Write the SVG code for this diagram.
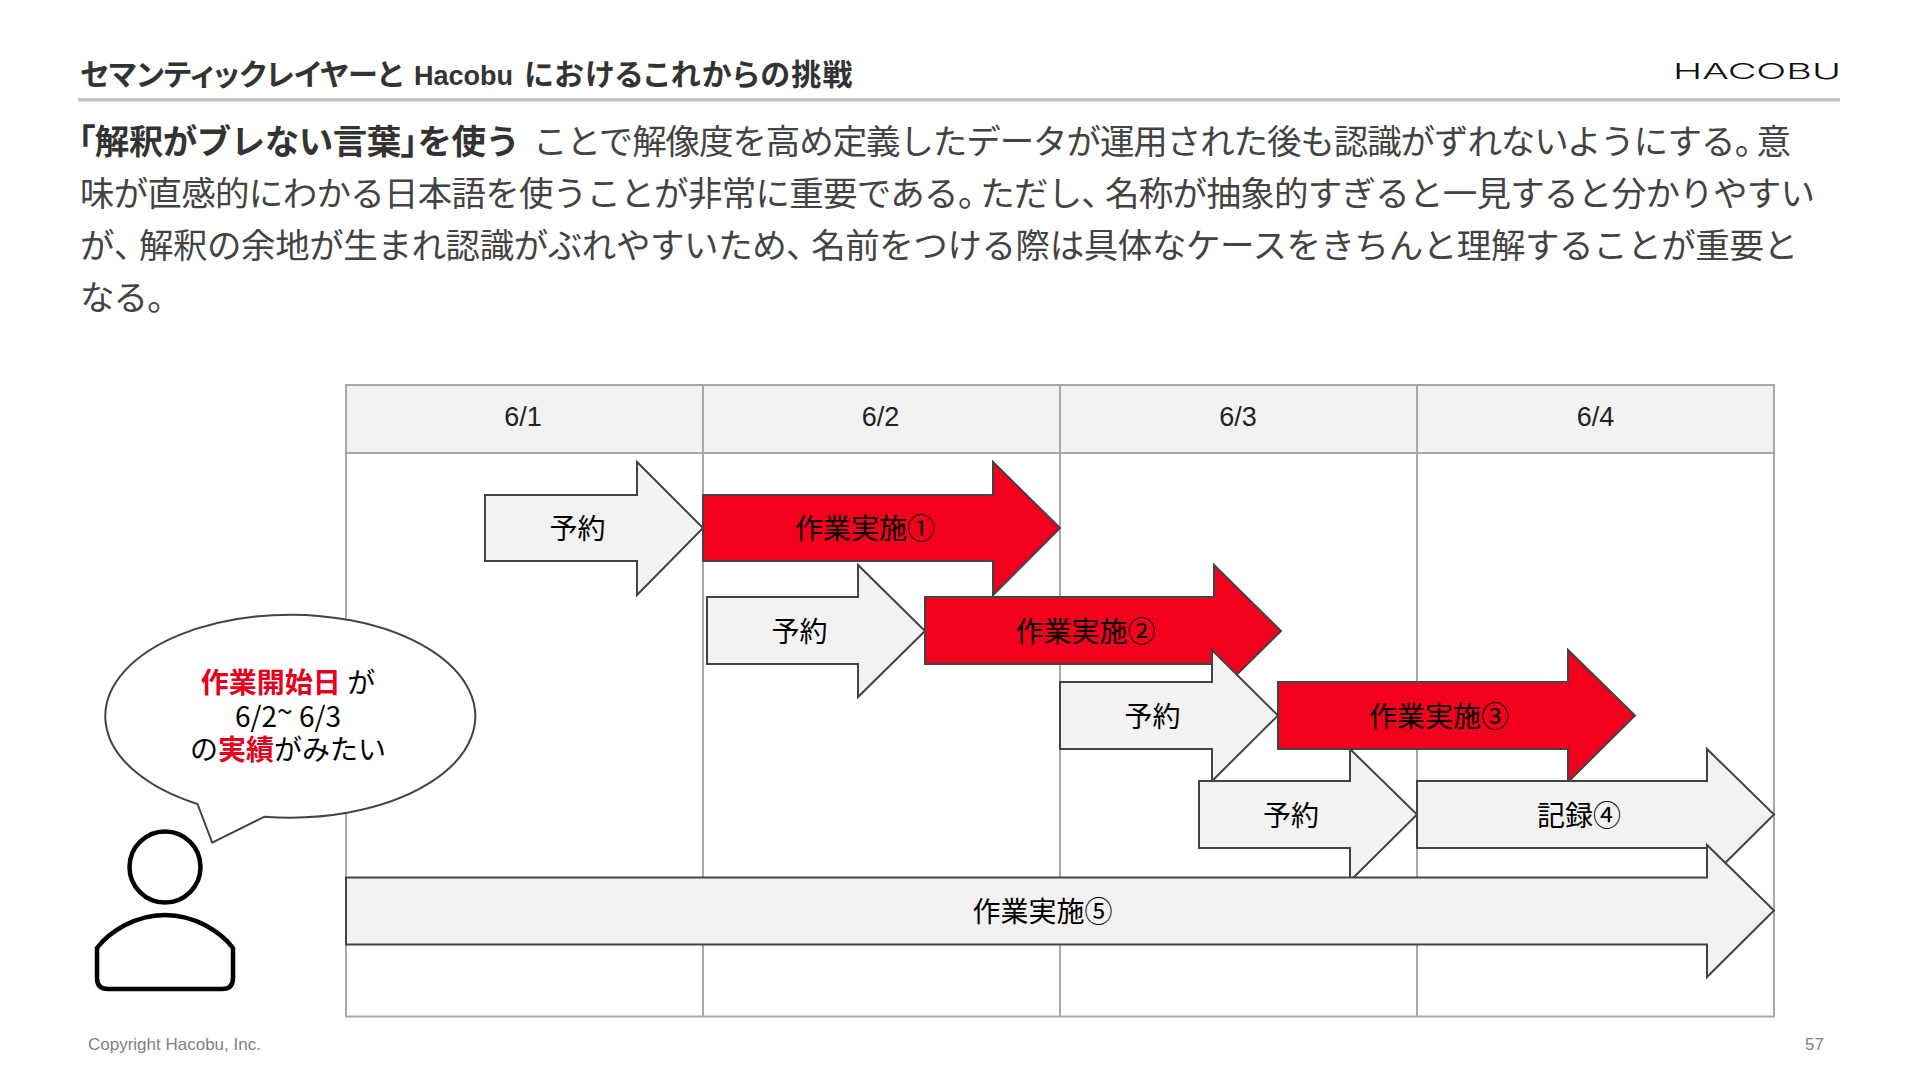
<svg xmlns="http://www.w3.org/2000/svg" width="1920" height="1080" viewBox="0 0 1920 1080">
<style>
text{font-family:"Liberation Sans","Noto Sans CJK JP",sans-serif}
.jp{font-family:"Noto Sans CJK JP",sans-serif}
.p{font-feature-settings:"palt"}
.body{font-size:34.500px;fill:#434343}
.lab{font-family:"Noto Sans CJK JP",sans-serif;font-size:28px;fill:#000;text-anchor:middle;dominant-baseline:central}
.date{font-size:27px;fill:#222;text-anchor:middle}
.grid{fill:none;stroke:#a8a8a8;stroke-width:2}
.ga{fill:#f2f2f2;stroke:#434343;stroke-width:2}
.ra{fill:#f2001d;stroke:#434343;stroke-width:2}
.red{fill:#e60020;font-weight:700}
.foot{font-size:17px;fill:#808080}
</style>
<rect width="1920" height="1080" fill="#fff"/>
<g id="header">
<text x="80" y="85" font-size="30" font-weight="700" fill="#333"><tspan class="jp p">セマンティックレイヤーと</tspan><tspan x="414" font-size="27">Hacobu</tspan><tspan class="jp p" x="524" letter-spacing="1.300">におけるこれからの挑戦</tspan></text>
<text x="1673" y="79" font-size="22" font-weight="300" fill="#111" style="font-family:Inter,sans-serif" textLength="168" lengthAdjust="spacingAndGlyphs">HACOBU</text>
<rect x="78" y="98" width="1762" height="3.500" fill="#c4c4c4"/>
</g>
<g id="body-text">
<text class="jp body" x="78" y="154" font-weight="700" style="fill:#333" textLength="442"><tspan class="p">「</tspan>解釈がブレない言葉<tspan class="p">」</tspan>を使う</text>
<text class="jp body" x="533" y="154" textLength="1258">ことで解像度を高め定義したデータが運用された後も認識がずれないようにする<tspan class="p">。</tspan><tspan dx="6">意</tspan></text>
<text class="jp body" x="80" y="206" textLength="1735">味が直感的にわかる日本語を使うことが非常に重要である<tspan class="p">。</tspan><tspan dx="6">ただし</tspan><tspan class="p">、</tspan><tspan dx="7">名称が抽象的すぎると一見すると分かりやすい</tspan></text>
<text class="jp body" x="80" y="258" textLength="1718">が<tspan class="p">、</tspan><tspan dx="8">解釈の余地が生まれ認識がぶれやすいため</tspan><tspan class="p">、</tspan><tspan dx="8">名前をつける際は具体なケースをきちんと理解することが重要と</tspan></text>
<text class="jp body" x="80" y="310" textLength="84">なる<tspan class="p">。</tspan></text>
</g>
<g id="table">
<rect x="346" y="385" width="1428" height="68" fill="#f2f2f2"/>
<rect class="grid" x="346" y="385" width="1428" height="631.500"/>
<path class="grid" d="M346 453H1774M703 385V1016.500M1060 385V1016.500M1417 385V1016.500"/>
<text class="date" x="523" y="426">6/1</text>
<text class="date" x="880.500" y="426">6/2</text>
<text class="date" x="1238" y="426">6/3</text>
<text class="date" x="1595.500" y="426">6/4</text>
</g>
<g id="arrow-yoyaku-1"><path class="ga" d="M485 495H637V462L703 528L637 595V561H485Z"/><text class="lab" x="577.500" y="526.500">予約</text></g>
<g id="arrow-work-1"><path class="ra" d="M703 495H993V462L1060 528L993 595V561H703Z"/><text class="lab" x="865" y="526.500">作業実施①</text></g>
<g id="arrow-yoyaku-2"><path class="ga" d="M707 597H858V565L925 631L858 697V664H707Z"/><text class="lab" x="799.500" y="629.500">予約</text></g>
<g id="arrow-work-2"><path class="ra" d="M925 597H1214V565L1281 631L1214 697V664H925Z"/><text class="lab" x="1085.500" y="629.500">作業実施②</text></g>
<g id="arrow-yoyaku-3"><path class="ga" d="M1060 682H1212V650L1278 715.500L1212 781V749H1060Z"/><text class="lab" x="1152.500" y="714.500">予約</text></g>
<g id="arrow-work-3"><path class="ra" d="M1278 682H1568V650L1635 715.500L1568 782V749H1278Z"/><text class="lab" x="1439" y="714.500">作業実施③</text></g>
<g id="arrow-yoyaku-4"><path class="ga" d="M1199 781H1350V749L1417 814.500L1350 881V848H1199Z"/><text class="lab" x="1291" y="813.500">予約</text></g>
<g id="arrow-record-4"><path class="ga" d="M1417 781H1707V749L1774 814.500L1707 881V848H1417Z"/><text class="lab" x="1579" y="813.500">記録④</text></g>
<g id="arrow-work-5"><path class="ga" d="M346 877.500H1707V845L1774 910.500L1707 977V944.500H346Z"/><text class="lab" x="1042.500" y="909.500">作業実施⑤</text></g>
<g id="speech-bubble">
<path d="M197.500 804A185 101.500 0 1 1 264.500 816.700L212.200 842.700Z" fill="#fff" stroke="#434343" stroke-width="2"/>
<text class="lab"><tspan x="288" y="681"><tspan class="red">作業開始日</tspan> が</tspan><tspan x="288" y="715">6/2<tspan dy="-5">~</tspan><tspan dy="5"> 6/3</tspan></tspan><tspan x="288" y="748">の<tspan class="red">実績</tspan>がみたい</tspan></text>
</g>
<g id="person" fill="#fff" stroke="#000" stroke-width="4.500">
<circle cx="165" cy="867" r="35.500"/>
<path d="M97 948C109 932 135 915 165 915C195 915 221 932 233 948V978Q233 989 222 989H108Q97 989 97 978Z"/>
</g>
<g id="footer">
<text class="foot" x="88" y="1050">Copyright Hacobu, Inc.</text>
<text class="foot" x="1805" y="1050">57</text>
</g>
<g id="connectors"/>
</svg>
